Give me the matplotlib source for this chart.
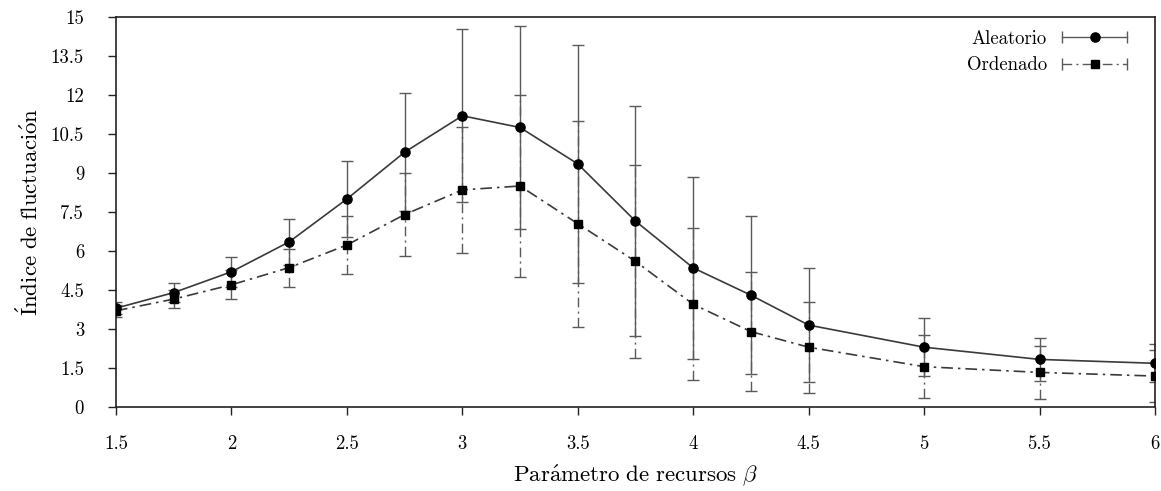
import matplotlib
matplotlib.use("Agg")
import matplotlib.pyplot as plt
import numpy as np
from matplotlib.legend_handler import HandlerBase
from matplotlib.lines import Line2D

plt.rcParams['font.family'] = ['cmr10', 'DejaVu Serif']
plt.rcParams['mathtext.fontset'] = 'cm'
plt.rcParams['axes.formatter.use_mathtext'] = True

# beta values and mean fluctuation index (with standard deviation)
beta = [1.5, 1.75, 2.0, 2.25, 2.5, 2.75, 3.0, 3.25, 3.5, 3.75, 4.0, 4.25, 4.5, 5.0, 5.5, 6.0]

aleatorio = [3.8, 4.4, 5.2, 6.35, 8.0, 9.8, 11.2, 10.75, 9.35, 7.15, 5.35, 4.3, 3.15, 2.3, 1.83, 1.68]
aleatorio_err = [0.22, 0.38, 0.58, 0.87, 1.46, 2.28, 3.32, 3.92, 4.57, 4.42, 3.5, 3.05, 2.18, 1.12, 0.84, 0.73]

ordenado = [3.7, 4.15, 4.7, 5.36, 6.23, 7.4, 8.35, 8.5, 7.05, 5.6, 3.95, 2.9, 2.3, 1.55, 1.33, 1.19]
ordenado_err = [0.23, 0.35, 0.55, 0.73, 1.1, 1.6, 2.42, 3.5, 3.96, 3.7, 2.93, 2.3, 1.75, 1.21, 1.02, 1.0]

dashdot = (0, (7, 3, 1.5, 3))
line_col = '#3a3a3a'
err_col = '#5a5a5a'


class CapLineHandler(HandlerBase):
    """Legend key drawn as a horizontal error bar with a marker in the middle."""

    def __init__(self, ls):
        super().__init__()
        self.ls = ls

    def create_artists(self, legend, orig, xdescent, ydescent, width, height,
                       fontsize, trans):
        y = height / 2.0 - ydescent
        x0, x1 = -xdescent, width - xdescent
        line = Line2D([x0, x1], [y, y], color=err_col, lw=1.0, linestyle=self.ls)
        caps = Line2D([x0, x1], [y, y], ls='none', marker='|', ms=8,
                      mew=1.0, color=err_col)
        mark = Line2D([(x0 + x1) / 2.0], [y], ls='none',
                      marker=orig.get_marker(), ms=orig.get_markersize(),
                      color='black')
        for a in (line, caps, mark):
            a.set_transform(trans)
        return [line, caps, mark]


fig = plt.figure(figsize=(11.61, 4.91), dpi=100)
ax = fig.add_axes([0.0999, 0.1711, 0.8949, 0.7943])

eb1 = ax.errorbar(beta, aleatorio, yerr=aleatorio_err, fmt='none',
                  ecolor=err_col, elinewidth=1.0, capsize=4, capthick=1.0,
                  zorder=2)
eb2 = ax.errorbar(beta, ordenado, yerr=ordenado_err, fmt='none',
                  ecolor=err_col, elinewidth=1.0, capsize=4, capthick=1.0,
                  zorder=1)
eb2[2][0].set_linestyle(dashdot)

h1, = ax.plot(beta, aleatorio, color=line_col, lw=1.2, marker='o', ms=6.6,
              mfc='black', mec='black', zorder=4)
h2, = ax.plot(beta, ordenado, color=line_col, lw=1.2, linestyle=dashdot,
              marker='s', ms=6.3, mfc='black', mec='black', zorder=3)

ax.set_xlim(1.5, 6)
ax.set_ylim(0, 15)
ax.set_xticks([1.5, 2, 2.5, 3, 3.5, 4, 4.5, 5, 5.5, 6])
ax.set_yticks(np.arange(0, 15.01, 1.5))
ax.xaxis.set_major_formatter(plt.FormatStrFormatter('%g'))
ax.yaxis.set_major_formatter(plt.FormatStrFormatter('%g'))
ax.tick_params(direction='out', length=6, width=1.0, labelsize=13.5,
               color='#222222')
ax.tick_params(axis='x', pad=14)
ax.tick_params(axis='y', pad=17)
for s in ax.spines.values():
    s.set_linewidth(1.2)
    s.set_color('#222222')

ax.set_xlabel(r"$\mathrm{Par\'ametro\ de\ recursos}\ \beta$", fontsize=16.5,
              labelpad=7)
ax.set_ylabel(r"$\mathrm{\'Indice\ de\ fluctuaci\'on}$", fontsize=16.5,
              labelpad=6)

ax.legend([h1, h2], ['Aleatorio', 'Ordenado'], loc='upper right',
          bbox_to_anchor=(0.988, 1.005), frameon=False, markerfirst=False,
          fontsize=13.5, handlelength=3.5, handletextpad=0.8,
          labelspacing=0.45, borderaxespad=0.4,
          handler_map={h1: CapLineHandler('-'), h2: CapLineHandler(dashdot)})

fig.savefig('out.png', dpi=100)
